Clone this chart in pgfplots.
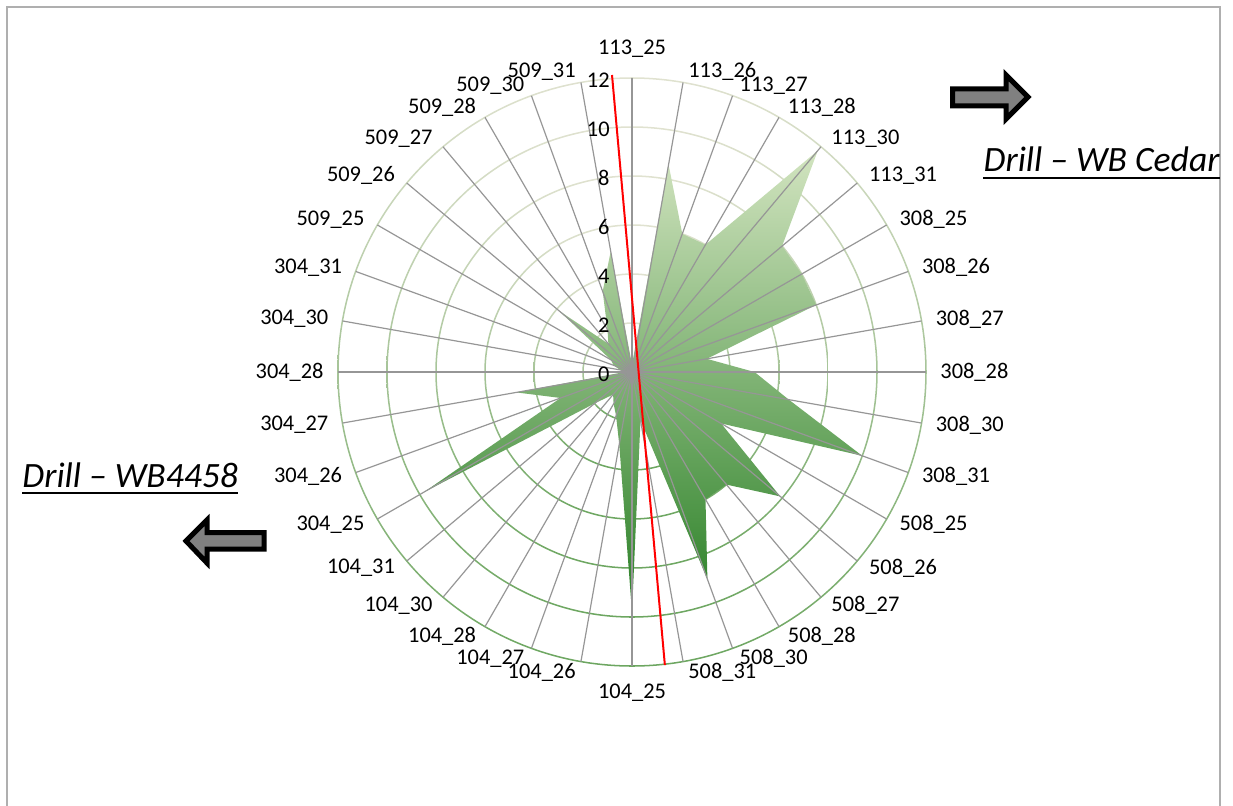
\documentclass[border=0pt]{standalone}
\usepackage{pgfplots}
\pgfplotsset{compat=1.18}
\usepackage{pgfplotstable}
\usepgfplotslibrary{polar}
\usepackage{fontspec}
\setmainfont{Carlito}

\definecolor{ringtop}{RGB}{224,226,208}
\definecolor{ringbot}{RGB}{108,166,96}
\definecolor{filltop}{RGB}{210,228,192}
\definecolor{fillbot}{RGB}{42,128,38}
\definecolor{spoke}{RGB}{150,150,150}
\definecolor{framegray}{RGB}{175,175,175}
\definecolor{arrowgray}{RGB}{128,128,128}

% angle (deg, counter-clockwise from east) and reading for each drill station
\pgfplotstableread{
ang  val
90   0.3
80   8.6
70   6.0
60   6.0
50   11.8
40   8.0
30   8.0
20   8.0
10   3.1
0    5.0
-10  6.5
-20  10.0
-30  4.2
-40  7.9
-50  6.0
-60  6.0
-70  9.0
-80  2.0
-90  9.8
-100 3.0
-110 1.9
-120 1.5
-130 1.2
-140 2.0
-150 9.8
-160 3.1
-170 4.8
-180 0.3
-190 0.5
-200 0.8
-210 1.0
-220 3.9
-230 1.5
-240 2.0
-250 3.5
-260 5.0
}\drilldata

\begin{document}
\begin{tikzpicture}
\useasboundingbox (0,0) rectangle (616.5pt,402.5pt);
\draw[framegray, line width=0.6pt] (3.5pt,-3pt) rectangle (610pt,399pt);

\begin{polaraxis}[
  at={(316pt,216.5pt)}, anchor=center,
  scale only axis, width=294pt, height=294pt,
  xmin=0, xmax=360, ymin=0, ymax=12,
  xtick=\empty, ytick=\empty,
  axis line style={draw=none},
  xmajorgrids=false, ymajorgrids=false,
  clip=false,
]
  % circular gridlines, shaded from pale at the top to green at the bottom
  \pgfplotsinvokeforeach{2,4,6,8,10,12}{
    \path[even odd rule, top color=ringtop, bottom color=ringbot]
      (axis cs:0,0) circle[radius={#1*12.25pt+0.38pt}]
      (axis cs:0,0) circle[radius={#1*12.25pt-0.38pt}];
  }

  \addplot[draw=none, top color=filltop, bottom color=fillbot] table[x=ang, y=val] {\drilldata};

  % category spokes over the filled area
  \pgfplotsinvokeforeach{0,10,...,350}{
    \draw[spoke, line width=0.6pt] (axis cs:#1,0) -- (axis cs:#1,12);
  }

  \addplot[red, line width=1pt] coordinates {(93.85,12.15) (-83.6,12.04)};

  % radial scale
  \pgfplotsinvokeforeach{0,2,4,6,8,10,12}{
    \node[anchor=east, font=\fontsize{11.2}{13}\selectfont, inner sep=0pt]
      at ([xshift=-11pt,yshift=-1pt]axis cs:90,#1) {#1};
  }

  % category names round the outer ring
  \pgfplotsextra{
    \foreach \a/\an/\r/\t in {
      90/south/12.7/113\_25, 80/west/12.45/113\_26, 70/west/12.45/113\_27,
      60/west/12.45/113\_28, 50/west/12.45/113\_30, 40/west/12.45/113\_31,
      30/west/12.45/308\_25, 20/west/12.45/308\_26, 10/west/12.45/308\_27,
      0/west/12.45/308\_28, -10/west/12.45/308\_30, -20/west/12.45/308\_31,
      -30/west/12.45/508\_25, -40/west/12.45/508\_26, -50/west/12.45/508\_27,
      -60/west/12.45/508\_28, -70/west/12.45/508\_30, -80/west/12.45/508\_31,
      -90/north/12.6/104\_25, -100/east/12.45/104\_26, -110/east/12.45/104\_27,
      -120/east/12.45/104\_28, -130/east/12.45/104\_30, -140/east/12.45/104\_31,
      -150/east/12.45/304\_25, -160/east/12.45/304\_26, -170/east/12.45/304\_27,
      -180/east/12.45/304\_28, -190/east/12.45/304\_30, -200/east/12.45/304\_31,
      -210/east/12.45/509\_25, -220/east/12.45/509\_26, -230/east/12.45/509\_27,
      -240/east/12.45/509\_28, -250/east/12.45/509\_30, -260/east/12.45/509\_31}{
      \node[anchor=\an, inner sep=1.5pt, font=\fontsize{11.2}{13}\selectfont]
        at (axis cs:\a,\r) {\t};
    }
  }
\end{polaraxis}

% direction markers
\draw[line width=2.5pt, miter limit=10, fill=arrowgray]
  (476.25pt,358pt) -- (503pt,358pt) -- (503pt,365pt) -- (514pt,354pt)
  -- (503pt,343pt) -- (503pt,349.5pt) -- (476.25pt,349.5pt) -- cycle;
\draw[line width=2.5pt, miter limit=10, fill=arrowgray]
  (93pt,132pt) -- (103.5pt,142.5pt) -- (103.5pt,136.25pt) -- (132pt,136.25pt)
  -- (132pt,128pt) -- (103.5pt,128pt) -- (103.5pt,121pt) -- cycle;

\node[anchor=base east, inner sep=0pt, font=\fontsize{17.8}{21}\selectfont\itshape] (cedar)
  at (610pt,316.5pt) {Drill – WB Cedar};
\draw[line width=0.9pt] ([yshift=-3pt]cedar.base west) -- ([yshift=-3pt]cedar.base east);
\node[anchor=base west, inner sep=0pt, font=\fontsize{17.8}{21}\selectfont\itshape] (wb)
  at (11pt,159pt) {Drill – WB4458};
\draw[line width=0.9pt] ([yshift=-3pt]wb.base west) -- ([yshift=-3pt]wb.base east);
\end{tikzpicture}
\end{document}
